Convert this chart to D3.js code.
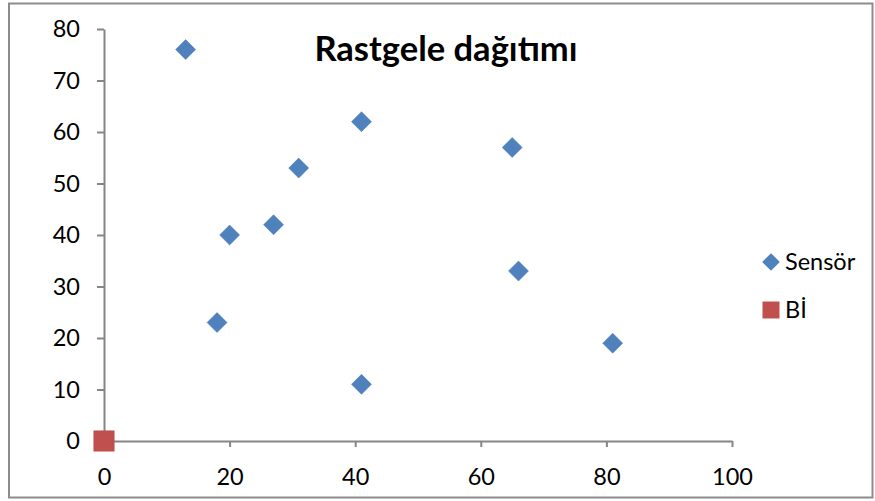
<!DOCTYPE html>
<html>
<head>
<meta charset="utf-8">
<script src="https://cdn.jsdelivr.net/npm/d3@7"></script>
<style>
  html, body { margin: 0; padding: 0; background: #fff; }
  svg { display: block; }
  .tick text { font-family: Lato, "Open Sans", sans-serif; font-size: 23.5px; fill: #000; }
</style>
</head>
<body>
<div id="chart"></div>
<script>
// sensor positions (x, y)
const sensorX = [13, 41, 65, 31, 27, 20, 66, 18, 81, 41];
const sensorY = [76, 62, 57, 53, 42, 40, 33, 23, 19, 11];
// base station
const biX = [0];
const biY = [0];

const xTicks = [0, 20, 40, 60, 80, 100];
const yTicks = [0, 10, 20, 30, 40, 50, 60, 70, 80];
const seriesNames = ["Sensör", "Bİ"];
const titleText = "Rastgele dağıtımı";

const width = 875, height = 501;
const blue = "#4F81BD", red = "#C0504D", axisGray = "#868686";

const svg = d3.select("#chart").append("svg").attr("width", width).attr("height", height);

// chart frame
svg.append("rect")
    .attr("x", 9).attr("y", 3.5)
    .attr("width", 863.5).attr("height", 494)
    .attr("fill", "#fff")
    .attr("stroke", "#8c8c8c")
    .attr("stroke-width", 2);

const x = d3.scaleLinear().domain([0, 100]).range([104, 732]);
const y = d3.scaleLinear().domain([0, 80]).range([441, 29]);

const xAxis = svg.append("g")
    .attr("transform", `translate(0, ${y(0)})`)
    .call(d3.axisBottom(x).tickValues(xTicks).tickSize(6).tickSizeOuter(0).tickPadding(21));
const yAxis = svg.append("g")
    .attr("transform", `translate(${x(0)}, 0)`)
    .call(d3.axisLeft(y).tickValues(yTicks).tickSize(7).tickSizeOuter(0).tickPadding(17));

[xAxis, yAxis].forEach(a => {
    a.select(".domain").attr("stroke", axisGray).attr("stroke-width", 2);
    a.selectAll(".tick line").attr("stroke", axisGray).attr("stroke-width", 2);
});

// title
svg.append("text")
    .attr("x", 446).attr("y", 60.5)
    .attr("text-anchor", "middle")
    .attr("font-family", "Lato, 'Open Sans', sans-serif")
    .attr("font-weight", "bold")
    .attr("font-size", 34.5)
    .text(titleText);

const diamond = d3.symbol().type(d3.symbolSquare).size(200);
const sensors = sensorX.map((v, i) => ({ x: v, y: sensorY[i] }));

svg.append("g").selectAll("path")
    .data(sensors)
    .join("path")
    .attr("d", diamond)
    .attr("transform", d => `translate(${x(d.x)}, ${y(d.y)}) rotate(45)`)
    .attr("fill", blue)
    .attr("stroke", "#4A7EBB")
    .attr("stroke-width", 0.5);

const square = d3.symbol().type(d3.symbolSquare).size(420);
svg.append("g").selectAll("path")
    .data(biX.map((v, i) => ({ x: v, y: biY[i] })))
    .join("path")
    .attr("d", square)
    .attr("transform", d => `translate(${x(d.x)}, ${y(d.y)})`)
    .attr("fill", red)
    .attr("stroke", "#BE4B48")
    .attr("stroke-width", 0.5);

// legend
const legend = svg.append("g").attr("transform", "translate(771, 0)");
const legendY = [262, 310];
const legendSymbols = [
    { d: d3.symbol().type(d3.symbolSquare).size(156)(), rot: 45, color: blue },
    { d: d3.symbol().type(d3.symbolSquare).size(289)(), rot: 0, color: red }
];
seriesNames.forEach((name, i) => {
    legend.append("path")
        .attr("d", legendSymbols[i].d)
        .attr("transform", `translate(0, ${legendY[i]}) rotate(${legendSymbols[i].rot})`)
        .attr("fill", legendSymbols[i].color);
    legend.append("text")
        .attr("x", 14).attr("y", legendY[i] + 8)
        .attr("font-family", "Lato, 'Open Sans', sans-serif")
        .attr("font-size", 23.5)
        .text(name);
});
</script>
</body>
</html>
